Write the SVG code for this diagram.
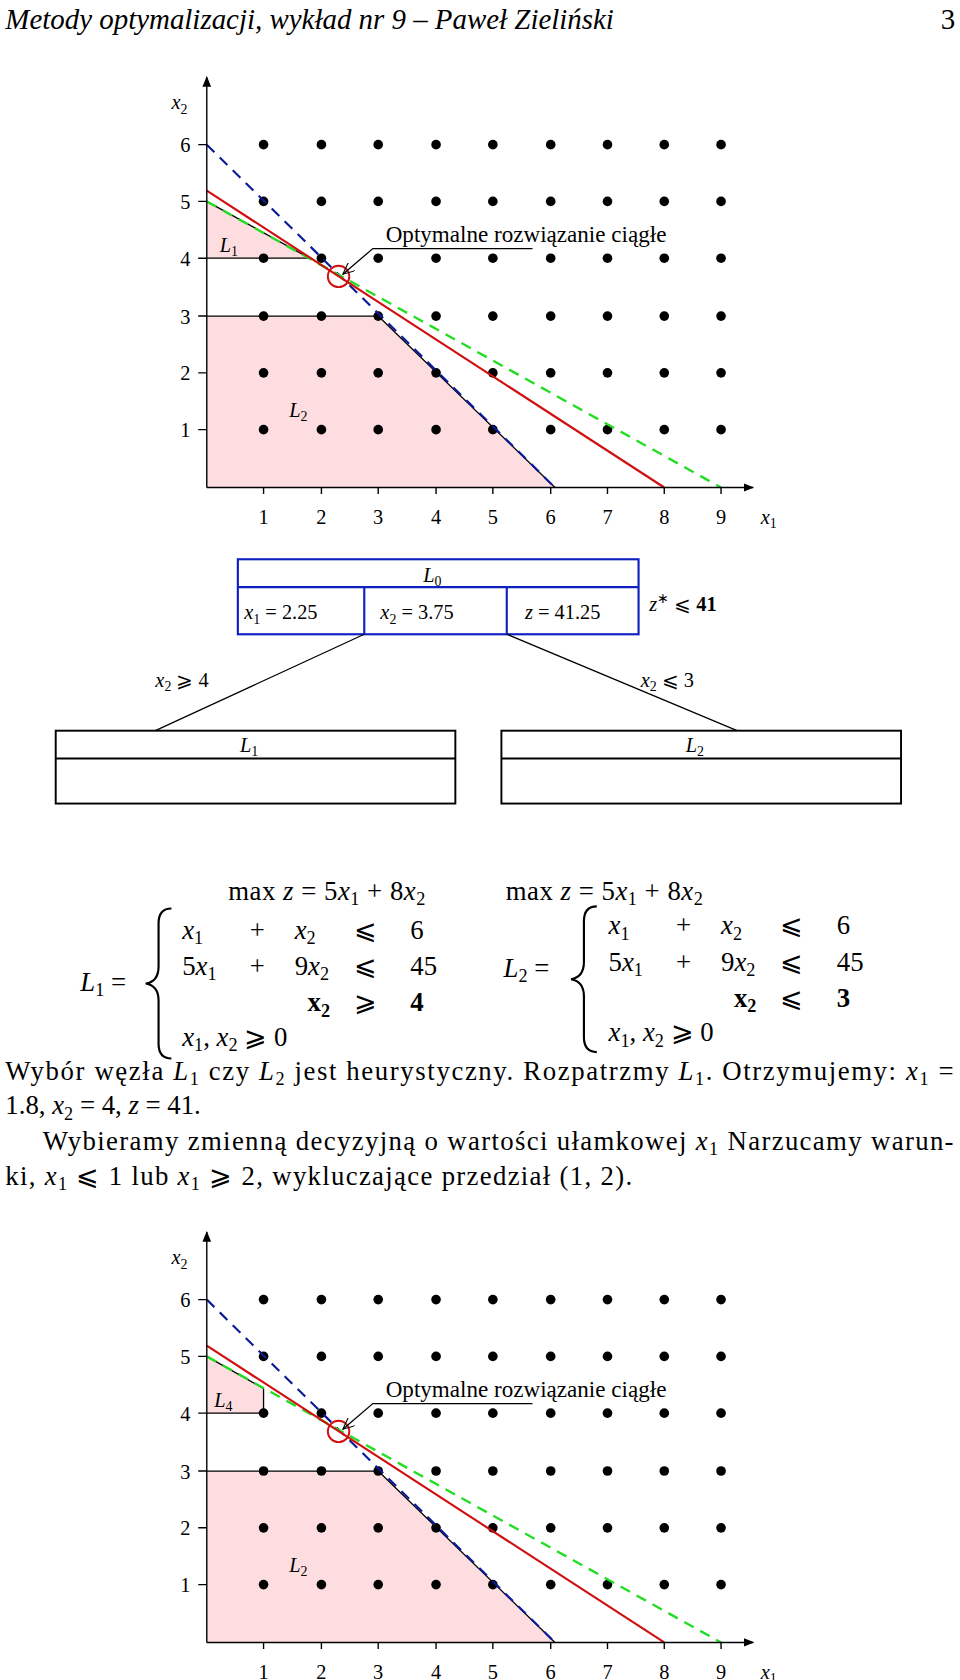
<svg xmlns="http://www.w3.org/2000/svg" width="960" height="1680" viewBox="0 0 960 1680">
<style>
text{font-family:"Liberation Serif",serif;fill:#000}
.t{font-size:19px}
.o{font-size:21px}
.m{font-size:25px}
.i{font-style:italic}
.ax{stroke:#000;stroke-width:1.3;fill:none}
.bl{stroke:#000;stroke-width:1.2;fill:none}
.red{stroke:#d01010;stroke-width:2;fill:none}
.blu{stroke:#0a1a9a;stroke-width:2;stroke-dasharray:10,7;fill:none}
.grn{stroke:#22dd22;stroke-width:2.2;stroke-dasharray:10,7;fill:none}
.pink{fill:#fddde0}
.box{fill:none;stroke:#000;stroke-width:1.8}
.bbox{fill:none;stroke:#1020c0;stroke-width:2}
</style>
<defs>
<circle id="d" r="4.5" fill="#000"/>
<marker id="ah" markerWidth="10" markerHeight="8" refX="9" refY="4" orient="auto" markerUnits="userSpaceOnUse"><path d="M0,0L10,4L0,8z" fill="#000"/></marker>
<marker id="oa" markerWidth="12" markerHeight="10" refX="11" refY="5" orient="auto" markerUnits="userSpaceOnUse"><path d="M0,0L11,5L0,10" fill="none" stroke="#000" stroke-width="1"/></marker>
<g id="row"><use href="#d" x="246"/><use href="#d" x="300"/><use href="#d" x="353"/><use href="#d" x="407"/><use href="#d" x="460"/><use href="#d" x="514"/><use href="#d" x="567"/><use href="#d" x="620"/><use href="#d" x="673"/></g>
<g id="dots">
<use href="#row" y="401"/><use href="#row" y="348"/><use href="#row" y="295"/><use href="#row" y="241"/><use href="#row" y="188"/><use href="#row" y="135"/>
</g>
<g id="axes">
<path class="ax" d="M193,455V72" marker-end="url(#ah)"/>
<path class="ax" d="M193,455H703" marker-end="url(#ah)"/>
<path class="ax" d="M185,401h8M185,348h8M185,295h8M185,241h8M185,188h8M185,135h8"/>
<path class="ax" d="M246,455v6M300,455v6M353,455v6M407,455v6M460,455v6M514,455v6M567,455v6M620,455v6M673,455v6"/>
<g class="t" text-anchor="middle">
<text x="173" y="408">1</text><text x="173" y="355">2</text><text x="173" y="302">3</text><text x="173" y="248">4</text><text x="173" y="195">5</text><text x="173" y="142">6</text>
<text x="246" y="489">1</text><text x="300" y="489">2</text><text x="353" y="489">3</text><text x="407" y="489">4</text><text x="460" y="489">5</text><text x="514" y="489">6</text><text x="567" y="489">7</text><text x="620" y="489">8</text><text x="673" y="489">9</text>
</g>
<text class="t i" x="160" y="102">x<tspan font-size="13" dy="4" font-style="normal">2</tspan></text>
<text class="t i" x="710" y="489">x<tspan font-size="13" dy="4" font-style="normal">1</tspan></text>
</g>
</defs>
<g transform="scale(1.0714)">
<text font-size="27" class="i" x="5" y="27">Metody optymalizacji, wykład nr 9 – Paweł Zieliński</text>
<text font-size="27" x="878" y="27">3</text>

<g id="plot1">
<polygon class="pink" points="193,188 193,241 289,241"/>
<polygon class="pink" points="193,295 353,295 518,455 193,455"/>
<use href="#dots"/>
<path class="bl" d="M193,241H289M193,295H353M193,188L289,241M353,295L518,455"/>
<line class="blu" x1="193" y1="135" x2="518" y2="455"/>
<line class="grn" x1="193" y1="188" x2="673" y2="455"/>
<line class="red" x1="193" y1="178" x2="620" y2="455"/>
<use href="#axes"/>
<circle cx="316" cy="258" r="10" fill="none" stroke="#d01010" stroke-width="1.8"/>
<path class="bl" d="M497,232H348L320,256" marker-end="url(#oa)"/>
<text class="o" x="360" y="226" textLength="262" lengthAdjust="spacingAndGlyphs">Optymalne rozwiązanie ciągłe</text>
<text class="t i" x="205" y="235">L<tspan font-size="13" dy="4" font-style="normal">1</tspan></text>
<text class="t i" x="270" y="389">L<tspan font-size="13" dy="4" font-style="normal">2</tspan></text>
</g>

<g id="tree-L0">
<rect class="bbox" x="222" y="522" width="374" height="70"/>
<path class="bbox" d="M222,548H596M340,548V592M473,548V592"/>
<text class="t i" x="395" y="543">L<tspan font-size="13" dy="4" font-style="normal">0</tspan></text>
<text class="t" x="228" y="578"><tspan font-style="italic">x</tspan><tspan font-size="13" dy="4">1</tspan><tspan dy="-4"> = 2.25</tspan></text>
<text class="t" x="355" y="578"><tspan font-style="italic">x</tspan><tspan font-size="13" dy="4">2</tspan><tspan dy="-4"> = 3.75</tspan></text>
<text class="t" x="490" y="578"><tspan font-style="italic">z</tspan> = 41.25</text>
<text class="t" x="606" y="570"><tspan font-style="italic">z</tspan><tspan font-size="13" dy="-7">∗</tspan><tspan dy="7"> ⩽ </tspan><tspan font-weight="bold">41</tspan></text>
</g>
<g id="connectors">
<path class="bl" stroke-width="1.8" d="M340,592L145,682M473,592L688,682"/>
<text class="t" x="145" y="641"><tspan font-style="italic">x</tspan><tspan font-size="13" dy="4">2</tspan><tspan dy="-4"> ⩾ 4</tspan></text>
<text class="t" x="598" y="641"><tspan font-style="italic">x</tspan><tspan font-size="13" dy="4">2</tspan><tspan dy="-4"> ⩽ 3</tspan></text>
</g>
<g id="tree-L1">
<rect class="box" x="52" y="682" width="373" height="68"/>
<path class="box" d="M52,708H425"/>
<text class="t i" x="224" y="702">L<tspan font-size="13" dy="4" font-style="normal">1</tspan></text>
</g>
<g id="tree-L2">
<rect class="box" x="468" y="682" width="373" height="68"/>
<path class="box" d="M468,708H841"/>
<text class="t i" x="640" y="702">L<tspan font-size="13" dy="4" font-style="normal">2</tspan></text>
</g>

<g id="eq1" class="m">
<text x="213" y="840" textLength="184" lengthAdjust="spacing">max <tspan font-style="italic">z</tspan> = 5<tspan font-style="italic">x</tspan><tspan font-size="17" dy="5">1</tspan><tspan dy="-5"> + 8</tspan><tspan font-style="italic">x</tspan><tspan font-size="17" dy="5">2</tspan></text>
<text x="75" y="925"><tspan font-style="italic">L</tspan><tspan font-size="17" dy="5">1</tspan><tspan dy="-5"> =</tspan></text>
<path d="M160,848 q-12,0 -12,14 v40 q0,14 -12,16 q12,2 12,16 v40 q0,14 12,14" fill="none" stroke="#000" stroke-width="2"/>
<text x="170" y="876"><tspan font-style="italic">x</tspan><tspan font-size="17" dy="5">1</tspan></text><text x="233" y="876">+</text><text x="275" y="876"><tspan font-style="italic">x</tspan><tspan font-size="17" dy="5">2</tspan></text><text x="330" y="876">⩽</text><text x="383" y="876">6</text>
<text x="170" y="910">5<tspan font-style="italic">x</tspan><tspan font-size="17" dy="5">1</tspan></text><text x="233" y="910">+</text><text x="275" y="910">9<tspan font-style="italic">x</tspan><tspan font-size="17" dy="5">2</tspan></text><text x="330" y="910">⩽</text><text x="383" y="910">45</text>
<text x="287" y="944" font-weight="bold">x<tspan font-size="17" dy="5">2</tspan></text><text x="330" y="944">⩾</text><text x="383" y="944" font-weight="bold">4</text>
<text x="170" y="976"><tspan font-style="italic">x</tspan><tspan font-size="17" dy="5">1</tspan><tspan dy="-5">, </tspan><tspan font-style="italic">x</tspan><tspan font-size="17" dy="5">2</tspan><tspan dy="-5"> ⩾ 0</tspan></text>
</g>
<g id="eq2" class="m">
<text x="472" y="840" textLength="184" lengthAdjust="spacing">max <tspan font-style="italic">z</tspan> = 5<tspan font-style="italic">x</tspan><tspan font-size="17" dy="5">1</tspan><tspan dy="-5"> + 8</tspan><tspan font-style="italic">x</tspan><tspan font-size="17" dy="5">2</tspan></text>
<text x="470" y="912"><tspan font-style="italic">L</tspan><tspan font-size="17" dy="5">2</tspan><tspan dy="-5"> =</tspan></text>
<path d="M557,846 q-12,0 -12,14 v38 q0,14 -12,16 q12,2 12,16 v38 q0,14 12,14" fill="none" stroke="#000" stroke-width="2"/>
<text x="568" y="872"><tspan font-style="italic">x</tspan><tspan font-size="17" dy="5">1</tspan></text><text x="631" y="872">+</text><text x="673" y="872"><tspan font-style="italic">x</tspan><tspan font-size="17" dy="5">2</tspan></text><text x="728" y="872">⩽</text><text x="781" y="872">6</text>
<text x="568" y="906">5<tspan font-style="italic">x</tspan><tspan font-size="17" dy="5">1</tspan></text><text x="631" y="906">+</text><text x="673" y="906">9<tspan font-style="italic">x</tspan><tspan font-size="17" dy="5">2</tspan></text><text x="728" y="906">⩽</text><text x="781" y="906">45</text>
<text x="685" y="940" font-weight="bold">x<tspan font-size="17" dy="5">2</tspan></text><text x="728" y="940">⩽</text><text x="781" y="940" font-weight="bold">3</text>
<text x="568" y="972"><tspan font-style="italic">x</tspan><tspan font-size="17" dy="5">1</tspan><tspan dy="-5">, </tspan><tspan font-style="italic">x</tspan><tspan font-size="17" dy="5">2</tspan><tspan dy="-5"> ⩾ 0</tspan></text>
</g>

<g id="para" class="m">
<text x="5" y="1008" textLength="885" lengthAdjust="spacing">Wybór węzła <tspan font-style="italic">L</tspan><tspan font-size="17" dy="5">1</tspan><tspan dy="-5"> czy </tspan><tspan font-style="italic">L</tspan><tspan font-size="17" dy="5">2</tspan><tspan dy="-5"> jest heurystyczny. Rozpatrzmy </tspan><tspan font-style="italic">L</tspan><tspan font-size="17" dy="5">1</tspan><tspan dy="-5">. Otrzymujemy: </tspan><tspan font-style="italic">x</tspan><tspan font-size="17" dy="5">1</tspan><tspan dy="-5"> =</tspan></text>
<text x="5" y="1040">1.8, <tspan font-style="italic">x</tspan><tspan font-size="17" dy="5">2</tspan><tspan dy="-5"> = 4, </tspan><tspan font-style="italic">z</tspan> = 41.</text>
<text x="40" y="1073" textLength="850" lengthAdjust="spacing">Wybieramy zmienną decyzyjną o wartości ułamkowej <tspan font-style="italic">x</tspan><tspan font-size="17" dy="5">1</tspan><tspan dy="-5"> Narzucamy warun-</tspan></text>
<text x="5" y="1106" textLength="585" lengthAdjust="spacing">ki, <tspan font-style="italic">x</tspan><tspan font-size="17" dy="5">1</tspan><tspan dy="-5"> ⩽ 1 lub </tspan><tspan font-style="italic">x</tspan><tspan font-size="17" dy="5">1</tspan><tspan dy="-5"> ⩾ 2, wykluczające przedział (1, 2).</tspan></text>
</g>

<g id="plot2" transform="translate(0,1078)">
<polygon class="pink" points="193,188 193,241 246,241 246,218"/>
<polygon class="pink" points="193,295 353,295 518,455 193,455"/>
<use href="#dots"/>
<path class="bl" d="M193,241H246V218M193,295H353M193,188L246,218M353,295L518,455"/>
<line class="blu" x1="193" y1="135" x2="518" y2="455"/>
<line class="grn" x1="193" y1="188" x2="673" y2="455"/>
<line class="red" x1="193" y1="178" x2="620" y2="455"/>
<use href="#axes"/>
<circle cx="316" cy="258" r="10" fill="none" stroke="#d01010" stroke-width="1.8"/>
<path class="bl" d="M497,232H348L320,256" marker-end="url(#oa)"/>
<text class="o" x="360" y="226" textLength="262" lengthAdjust="spacingAndGlyphs">Optymalne rozwiązanie ciągłe</text>
<text class="t i" x="200" y="235">L<tspan font-size="13" dy="4" font-style="normal">4</tspan></text>
<text class="t i" x="270" y="389">L<tspan font-size="13" dy="4" font-style="normal">2</tspan></text>
</g>
</g>
</svg>
